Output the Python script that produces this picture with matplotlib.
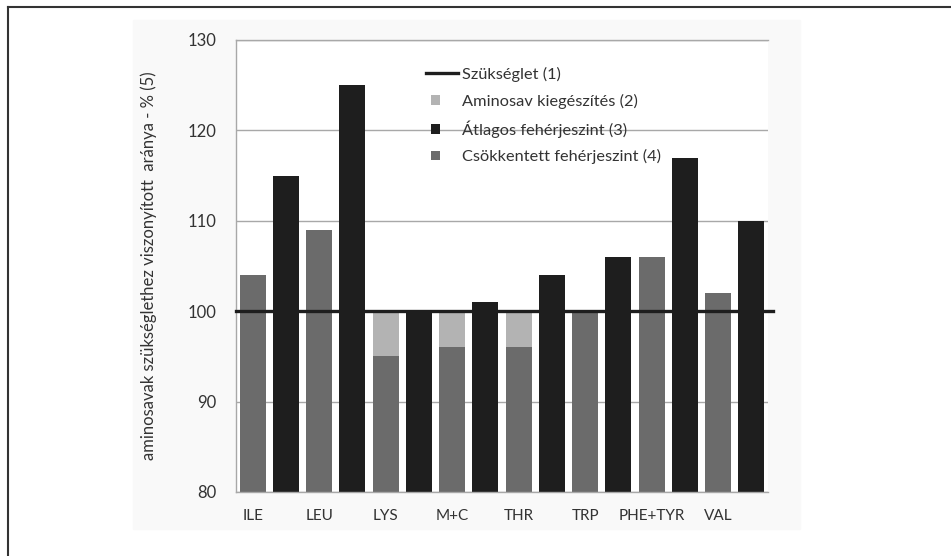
import matplotlib
matplotlib.use("Agg")
import matplotlib.pyplot as plt
import matplotlib.patches as mpatches
from matplotlib.lines import Line2D
from matplotlib.container import BarContainer
from matplotlib.legend_handler import HandlerPatch
import numpy as np

plt.rcParams['font.family'] = ['Lato', 'DejaVu Sans']

# adatok
aminosavak = ['ILE', 'LEU', 'LYS', 'M+C', 'THR', 'TRP', 'PHE+TYR', 'VAL']
csokkentett = [104, 109, 95, 96, 96, 100, 106, 102]   # (4)
kiegeszites = [0, 0, 5, 4, 4, 0, 0, 0]                # (2)
atlagos = [115, 125, 100, 101, 104, 106, 117, 110]    # (3)
szukseglet = 100                                      # (1)
y_ticks = [80, 90, 100, 110, 120, 130]

c_sotet = '#6b6b6b'
c_vilagos = '#b3b3b3'
c_fekete = '#1e1e1e'
c_racs = '#a8a8a8'

fig = plt.figure(figsize=(9.51, 5.56), dpi=100)

# halvány háttér és keret
fig.patches.append(mpatches.Rectangle((133/951, 1-529/556), 667/951, 509/556,
                                      transform=fig.transFigure, color='#f9f9f9', zorder=-5))
fig.add_artist(Line2D([8/951, 8/951], [0, 1-7/556], transform=fig.transFigure, color='#333333', lw=1.5))
fig.add_artist(Line2D([8/951, 1], [1-7/556, 1-7/556], transform=fig.transFigure, color='#333333', lw=1.5))

ax = fig.add_axes([236/951, 1-492/556, 532/951, 452/556])
ax.set_facecolor('white')

x = np.arange(len(aminosavak))
pos_red = 2*x
pos_avg = 2*x + 1
w = 0.78
base = 80

ax.bar(pos_red, np.array(csokkentett) - base, w, bottom=base, color=c_sotet, zorder=2,
       label='Csökkentett fehérjeszint (4)')
ax.bar(pos_red, kiegeszites, w, bottom=csokkentett, color=c_vilagos, zorder=2,
       label='Aminosav kiegészítés (2)')
ax.bar(pos_avg, np.array(atlagos) - base, w, bottom=base, color=c_fekete, zorder=2,
       label='Átlagos fehérjeszint (3)')
ax.axhline(szukseglet, xmin=0, xmax=1.01, color=c_fekete, lw=2.4, zorder=3, clip_on=False,
           label='Szükséglet (1)')

ax.set_xlim(-0.5, 15.5)
ax.set_ylim(80, 130)
ax.set_yticks(y_ticks)
ax.set_xticks(pos_red)
ax.set_xticklabels(aminosavak, fontsize=11, color='#333333')
ax.tick_params(axis='y', labelsize=12, colors='#333333', length=0, pad=14)
ax.tick_params(axis='x', length=0, pad=12)
ax.yaxis.grid(True, color=c_racs, lw=1, zorder=0)
ax.spines['right'].set_visible(False)
for s in ['left', 'top', 'bottom']:
    ax.spines[s].set_color(c_racs)
    ax.spines[s].set_linewidth(1)
ax.set_ylabel('aminosavak szükséglethez viszonyított  aránya - % (5)', fontsize=12,
              color='#333333', labelpad=22)


def kis_negyzet(legend, orig_handle, xdescent, ydescent, width, height, fontsize):
    s = height * 0.8
    return mpatches.Rectangle((-xdescent + 3, -ydescent + (height - s) / 2), s, s)


def elso_elem(legend_handle, orig_handle):
    legend_handle.update_from(orig_handle[0])


h, l = ax.get_legend_handles_labels()
sorrend = [l.index('Szükséglet (1)'), l.index('Aminosav kiegészítés (2)'),
           l.index('Átlagos fehérjeszint (3)'), l.index('Csökkentett fehérjeszint (4)')]
leg = ax.legend([h[i] for i in sorrend], [l[i] for i in sorrend],
                loc='upper left', bbox_to_anchor=(0.358, 0.94), frameon=False,
                fontsize=11.8, handlelength=1.9, handletextpad=0.25, labelspacing=0.7,
                borderaxespad=0, borderpad=0,
                handler_map={BarContainer: HandlerPatch(patch_func=kis_negyzet,
                                                        update_func=elso_elem)})
for t in leg.get_texts():
    t.set_color('#333333')

fig.savefig('out.png', dpi=100)
